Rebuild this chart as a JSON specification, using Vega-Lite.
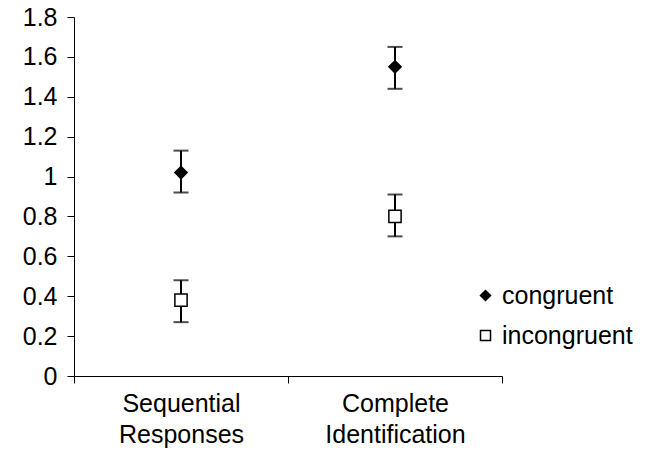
{
  "$schema": "https://vega.github.io/schema/vega-lite/v6.json",
  "autosize": {"type": "none"},
  "padding": {"left": 74, "top": 17, "right": 151, "bottom": 88},
  "width": 428,
  "height": 359,
  "background": "white",
  "config": {
    "view": {"stroke": null},
    "font": "Liberation Sans",
    "axis": {"labelFont": "Liberation Sans", "labelColor": "black", "labelFontSize": 25, "labelOverlap": false, "labelBound": false, "domainColor": "black", "tickColor": "black", "grid": false, "title": null, "tickSize": 7, "domainWidth": 1, "tickWidth": 1},
    "axisX": {"labelAngle": 0, "labelLineHeight": 31, "labelPadding": 8, "tickBand": "extent"},
    "axisY": {"labelPadding": 10},
    "legend": {"labelFont": "Liberation Sans", "labelFontSize": 25, "labelColor": "black"}
  },
  "data": {"values": [
    {"task": "Sequential Responses", "condition": "congruent", "mean": 1.02, "lo": 0.92, "hi": 1.13},
    {"task": "Sequential Responses", "condition": "incongruent", "mean": 0.38, "lo": 0.27, "hi": 0.48},
    {"task": "Complete Identification", "condition": "congruent", "mean": 1.55, "lo": 1.44, "hi": 1.65},
    {"task": "Complete Identification", "condition": "incongruent", "mean": 0.80, "lo": 0.70, "hi": 0.91}
  ]},
  "encoding": {
    "x": {"field": "task", "type": "nominal", "sort": ["Sequential Responses", "Complete Identification"],
      "scale": {"paddingInner": 0, "paddingOuter": 0},
      "axis": {"labelExpr": "split(datum.label, ' ')", "labelOverlap": false}},
    "y": {"type": "quantitative", "scale": {"domain": [0, 1.8]},
      "axis": {"values": [0, 0.2, 0.4, 0.6, 0.8, 1, 1.2, 1.4, 1.6, 1.8], "labelOverlap": false, "labelExpr": "datum.value == 0 ? '0' : format(datum.value, '.2~f')"}}
  },
  "layer": [
    {
      "mark": {"type": "rule", "color": "black", "strokeWidth": 2},
      "encoding": {"y": {"field": "lo", "type": "quantitative"}, "y2": {"field": "hi"}}
    },
    {
      "mark": {"type": "tick", "color": "black", "orient": "horizontal", "size": 15, "thickness": 2},
      "encoding": {"y": {"field": "lo", "type": "quantitative"}}
    },
    {
      "mark": {"type": "tick", "color": "black", "orient": "horizontal", "size": 15, "thickness": 2},
      "encoding": {"y": {"field": "hi", "type": "quantitative"}}
    },
    {
      "mark": {"type": "point", "opacity": 1, "strokeWidth": 1.5, "size": 150},
      "encoding": {
        "y": {"field": "mean", "type": "quantitative"},
        "shape": {"field": "condition", "type": "nominal", "scale": {"domain": ["congruent", "incongruent"], "range": ["diamond", "square"]},
          "legend": {"title": null, "orient": "none", "legendX": 399, "legendY": 266, "rowPadding": 14, "symbolSize": 100, "labelOffset": 4,
            "encode": {"symbols": {"update": {"stroke": {"value": "black"}, "strokeWidth": {"value": 1.5}}}}}},
        "fill": {"field": "condition", "type": "nominal", "scale": {"domain": ["congruent", "incongruent"], "range": ["black", "white"]}},
        "stroke": {"value": "black"}
      }
    }
  ]
}
